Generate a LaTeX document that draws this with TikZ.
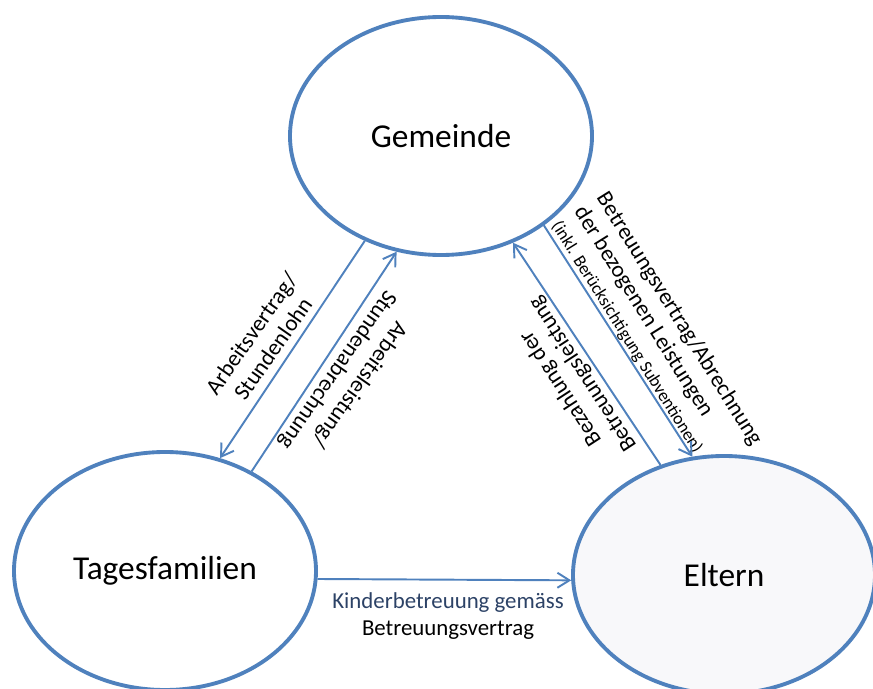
\documentclass[tikz,border=0pt]{standalone}
\usepackage{fontspec}
\setmainfont{Carlito}
\usetikzlibrary{shapes.geometric,arrows.meta}
\definecolor{relblue}{HTML}{4F81BD}
\definecolor{navytext}{HTML}{2C4266}
\definecolor{paleblue}{HTML}{F8F8FA}

\begin{document}
\begin{tikzpicture}[
    party/.style ={ellipse, draw=relblue, line width=2.2pt, inner sep=0pt,
                   minimum width=6.04cm, minimum height=4.76cm,
                   font=\fontsize{19}{23}\selectfont},
    relation/.style ={draw=relblue, line width=1.1pt,
                      -{Straight Barb[length=2.4mm,width=3mm]}},
    caption/.style ={font=\fontsize{13}{15}\selectfont, align=center, inner sep=0pt}]
   \useasboundingbox (0,0) rectangle (17.46,13.76);

   \node[party] (G) at (8.82,11.04) {Gemeinde};
   \node[party] (T) at (3.30,2.34) {Tagesfamilien};
   \node[party, fill=paleblue] (E) at (14.48,2.26) {Eltern};

   \node[caption, rotate=55] (GT) at (5.24,6.94) {Arbeitsvertrag/\\Stundenlohn};
   \node[caption, rotate=235] (TG) at (6.96,6.22) {Arbeitsleistung/\\Stundenabrechnung};
   \node[caption, rotate=-58, align=left] (GE) at (13.14,7.10)
      {Betreuungsvertrag/Abrechnung\\der bezogenen Leistungen\\{\fontsize{10}{11}\selectfont (inkl. Berücksichtigung Subventionen)}};
   \node[caption, rotate=123] (EG) at (11.44,6.14) {Bezahlung der\\Betreuungsleistung};
   \node[caption] (TE) at (8.96,1.44) {\textcolor{navytext}{Kinderbetreuung gemäss}\\Betreuungsvertrag};

   \draw[relation] (G.234) to (T.64);
   \draw[relation] (T.49) to (G.249);
   \draw[relation] (E.120) to (G.304);
   \draw[relation] (G.319) to (E.105);
   \draw[relation] (T.357) to (E.182);

\end{tikzpicture}
\end{document}
